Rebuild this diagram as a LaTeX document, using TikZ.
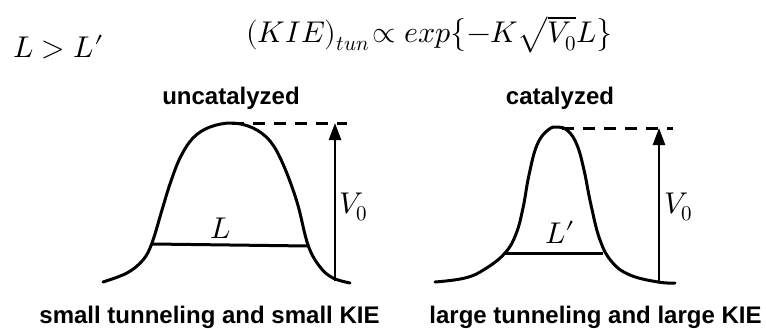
\documentclass[tikz,border=0pt]{standalone}
\usepackage{unicode-math}
\setmathfont{Latin Modern Math}
\setsansfont{Liberation Sans}
\usetikzlibrary{arrows.meta}
\tikzset{
  curve/.style={line width=3pt, line cap=round, line join=round},
  level/.style={line width=3pt},
  guide/.style={line width=3pt, dash pattern=on 12pt off 9pt},
  vArrow/.style={line width=2.5pt, -{Triangle[length=17pt,width=12pt]}},
  head/.style={font=\sffamily\bfseries\fontsize{24}{27}\selectfont, inner sep=0pt, anchor=base},
  mlab/.style={inner sep=0pt, anchor=base west, font=\fontsize{30}{34}\selectfont},
}
\begin{document}
\begin{tikzpicture}[x=1pt,y=-1pt]
\useasboundingbox (0,0) rectangle (766,329);
% top texts
\node[mlab] (ineq) at (13,58) {$L > L\prime$};
\node[inner sep=0pt, anchor=base west, font=\fontsize{30}{34}\selectfont] (form) at (246,43)
  {$(KIE)_{tun}\!\propto exp\bigl\{-K\sqrt{V_0}L\bigr\}$};
% headings
\node[head] (hu) at (231,104) {uncatalyzed};
\node[head] (hc) at (560,104) {catalyzed};
% left barrier
\draw[curve] plot[smooth, tension=0.6] coordinates {(103,282) (127,273) (143,260) (152,243) (162,210) (170,184) (180,158) (193,138) (210,127) (232,123) (253,128) (270,141) (283,164) (297,202) (308,245) (320,267) (333,278) (350,283)};
\coordinate (lA) at (152,244);
\coordinate (lB) at (308,246);
\draw[level] (lA) -- (lB);
\node[mlab] (lL) at (210,238) {$L$};
\coordinate (lTop) at (232,123.5);
\coordinate (lEnd) at (347,123.5);
\draw[guide] (lTop) -- (lEnd);
\coordinate (lBot) at (335,281);
\coordinate (lTip) at (335,123);
\draw[vArrow] (lBot) -- (lTip);
\node[mlab] (lV) at (339,213) {$V_0$};
% right barrier
\draw[curve] plot[smooth, tension=0.7] coordinates {(435,282) (465,278) (485,269) (505,253) (516,234) (523,208) (529,175) (537,145) (548,130) (558,127) (568,131) (577,145) (584,170) (591,205) (600,240) (612,262) (630,275) (658,282) (675,283)};
\coordinate (rA) at (505,253);
\coordinate (rB) at (603,253);
\draw[level] (rA) -- (rB);
\node[mlab] (rL) at (545,243) {$L\prime$};
\coordinate (rTop) at (562,128);
\coordinate (rEnd) at (673,128);
\draw[guide] (rTop) -- (rEnd);
\coordinate (rBot) at (659,283);
\coordinate (rTip) at (659,128);
\draw[vArrow] (rBot) -- (rTip);
\node[mlab] (rV) at (664,213) {$V_0$};
% bottom captions
\node[head] (cl) at (209.5,323) {small tunneling and small KIE};
\node[head] (cr) at (595.5,323) {large tunneling and large KIE};
\end{tikzpicture}
\end{document}
